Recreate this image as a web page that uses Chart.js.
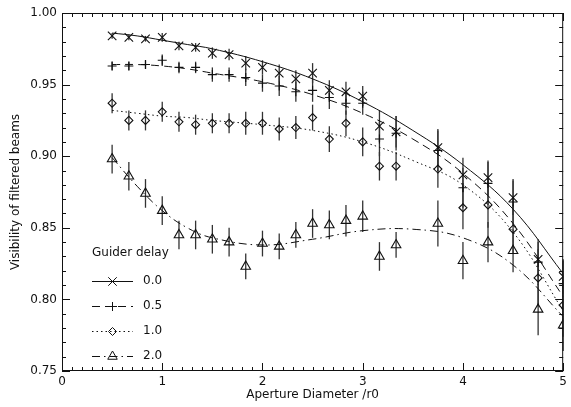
<!DOCTYPE html>
<html>
<head>
<meta charset="utf-8">
<script src="https://cdn.jsdelivr.net/npm/chart.js@4.4.1/dist/chart.umd.min.js"></script>
<style>
  html, body { margin: 0; padding: 0; background: #fff; }
  #chart { display: block; }
</style>
</head>
<body>
<canvas id="chart" width="571" height="407"></canvas>
<script>
// aperture diameters (units of r0)
const apertures = [0.5, 0.667, 0.833, 1.0, 1.167, 1.333, 1.5, 1.667, 1.833, 2.0, 2.167, 2.333,
  2.5, 2.667, 2.833, 3.0, 3.167, 3.333, 3.75, 4.0, 4.25, 4.5, 4.75, 5.0];

// measured visibility per guider delay
const vis00 = [0.984, 0.983, 0.982, 0.983, 0.977, 0.976, 0.972, 0.971, 0.965, 0.962, 0.958, 0.954,
  0.958, 0.946, 0.945, 0.942, 0.921, 0.917, 0.906, 0.887, 0.885, 0.871, 0.828, 0.816];
const vis05 = [0.963, 0.963, 0.964, 0.967, 0.962, 0.962, 0.957, 0.957, 0.955, 0.951, 0.949, 0.945,
  0.946, 0.941, 0.937, 0.937, 0.912, 0.916, 0.904, 0.878, 0.881, 0.868, 0.826, 0.811];
const vis10 = [0.937, 0.925, 0.925, 0.931, 0.924, 0.922, 0.923, 0.923, 0.923, 0.923, 0.919, 0.920,
  0.927, 0.912, 0.923, 0.910, 0.893, 0.893, 0.891, 0.864, 0.866, 0.849, 0.815, 0.796];
const vis20 = [0.898, 0.886, 0.874, 0.862, 0.845, 0.845, 0.842, 0.840, 0.823, 0.839, 0.837, 0.845,
  0.853, 0.852, 0.855, 0.858, 0.830, 0.838, 0.853, 0.827, 0.840, 0.834, 0.793, 0.782];

// error bar half lengths
const err00 = [0.002, 0.002, 0.002, 0.003, 0.003, 0.003, 0.004, 0.004, 0.005, 0.005, 0.006, 0.006,
  0.007, 0.007, 0.007, 0.007, 0.011, 0.011, 0.013, 0.012, 0.012, 0.012, 0.012, 0.012];
const err05 = [0.003, 0.003, 0.003, 0.004, 0.004, 0.004, 0.005, 0.005, 0.006, 0.006, 0.007, 0.007,
  0.008, 0.008, 0.008, 0.008, 0.012, 0.012, 0.014, 0.014, 0.015, 0.016, 0.016, 0.016];
const err10 = [0.007, 0.007, 0.007, 0.007, 0.007, 0.007, 0.007, 0.007, 0.008, 0.008, 0.008, 0.008,
  0.009, 0.009, 0.009, 0.010, 0.010, 0.010, 0.013, 0.015, 0.016, 0.017, 0.020, 0.022];
const err20 = [0.010, 0.010, 0.010, 0.010, 0.010, 0.010, 0.010, 0.010, 0.009, 0.009, 0.009, 0.009,
  0.010, 0.010, 0.011, 0.011, 0.010, 0.009, 0.016, 0.013, 0.014, 0.015, 0.018, 0.018];

const fitX = [0.5, 0.75, 1.0, 1.25, 1.5, 2.0, 2.5, 3.0, 3.5, 4.0, 4.5, 5.0];
const fit00 = [0.986, 0.984, 0.981, 0.978, 0.975, 0.966, 0.954, 0.938, 0.918, 0.894, 0.863, 0.818];
const fit05 = [0.964, 0.964, 0.963, 0.961, 0.958, 0.952, 0.943, 0.930, 0.912, 0.888, 0.853, 0.802];
const fit10 = [0.932, 0.930, 0.928, 0.927, 0.925, 0.922, 0.918, 0.910, 0.897, 0.880, 0.847, 0.792];
const fit20 = [0.899, 0.879, 0.862, 0.850, 0.843, 0.838, 0.842, 0.848, 0.849, 0.843, 0.824, 0.788];

const delays = ['0.0', '0.5', '1.0', '2.0'];

const xTicks = [0, 1, 2, 3, 4, 5];
const yTicks = [0.75, 0.80, 0.85, 0.90, 0.95, 1.00];

const INK = '#111';
const FONT = '12px "DejaVu Sans"';

const pts = (xs, ys) => xs.map((x, i) => ({ x: x, y: ys[i] }));

const series = [
  { vis: vis00, err: err00, fit: fit00, marker: 'crossRot', r: 6, dash: [] },
  { vis: vis05, err: err05, fit: fit05, marker: 'cross', r: 4.5, dash: [8, 5] },
  { vis: vis10, err: err10, fit: fit10, marker: 'rectRot', r: 4, dash: [1.5, 3] },
  { vis: vis20, err: err20, fit: fit20, marker: 'triangle', r: 5.5, dash: [8, 4, 1.5, 4] },
];

const datasets = [];
series.forEach((s, i) => {
  datasets.push({
    label: delays[i] + ' fit',
    data: pts(fitX, s.fit),
    showLine: true,
    tension: 0.4,
    borderColor: INK,
    borderWidth: 1,
    borderDash: s.dash,
    pointRadius: 0,
    fill: false
  });
});
series.forEach((s, i) => {
  datasets.push({
    label: delays[i],
    data: pts(apertures, s.vis),
    errors: s.err,
    showLine: false,
    pointStyle: s.marker,
    pointRadius: s.r,
    pointBorderColor: INK,
    pointBorderWidth: 1.1,
    pointBackgroundColor: 'rgba(0,0,0,0)'
  });
});

function drawMarker(ctx, style, x, y, r) {
  ctx.beginPath();
  if (style === 'crossRot') {
    const d = r * Math.SQRT1_2;
    ctx.moveTo(x - d, y - d); ctx.lineTo(x + d, y + d);
    ctx.moveTo(x - d, y + d); ctx.lineTo(x + d, y - d);
  } else if (style === 'cross') {
    ctx.moveTo(x - r, y); ctx.lineTo(x + r, y);
    ctx.moveTo(x, y - r); ctx.lineTo(x, y + r);
  } else if (style === 'rectRot') {
    ctx.moveTo(x - r, y); ctx.lineTo(x, y - r); ctx.lineTo(x + r, y); ctx.lineTo(x, y + r);
    ctx.closePath();
  } else {
    const a = Math.PI * 2 / 3;
    ctx.moveTo(x, y - r);
    ctx.lineTo(x + Math.sin(a) * r, y - Math.cos(a) * r);
    ctx.lineTo(x - Math.sin(a) * r, y - Math.cos(a) * r);
    ctx.closePath();
  }
  ctx.stroke();
}

const frame = {
  id: 'frame',
  beforeDatasetsDraw(chart) {
    // error bars
    const ctx = chart.ctx, xs = chart.scales.x, ys = chart.scales.y;
    ctx.save();
    ctx.strokeStyle = '#333';
    ctx.lineWidth = 1.3;
    chart.data.datasets.forEach(ds => {
      if (!ds.errors) return;
      ds.data.forEach((p, i) => {
        const px = xs.getPixelForValue(p.x);
        ctx.beginPath();
        ctx.moveTo(px, ys.getPixelForValue(p.y - ds.errors[i]));
        ctx.lineTo(px, ys.getPixelForValue(p.y + ds.errors[i]));
        ctx.stroke();
      });
    });
    ctx.restore();
  },
  afterDraw(chart) {
    const ctx = chart.ctx, a = chart.chartArea, xs = chart.scales.x, ys = chart.scales.y;
    ctx.save();
    ctx.strokeStyle = INK;
    ctx.lineWidth = 1;
    ctx.strokeRect(a.left + 0.5, a.top + 0.5, a.right - a.left - 1, a.bottom - a.top - 1);
    ctx.beginPath();
    for (let k = 0; k <= 50; k++) {
      const px = Math.round(xs.getPixelForValue(k / 10)) + 0.5;
      const len = k % 10 === 0 ? 8 : 4;
      ctx.moveTo(px, a.bottom); ctx.lineTo(px, a.bottom - len);
      ctx.moveTo(px, a.top); ctx.lineTo(px, a.top + len);
    }
    for (let k = 0; k <= 25; k++) {
      const py = Math.round(ys.getPixelForValue(0.75 + k / 100)) + 0.5;
      const len = k % 5 === 0 ? 8 : 4;
      ctx.moveTo(a.left, py); ctx.lineTo(a.left + len, py);
      ctx.moveTo(a.right, py); ctx.lineTo(a.right - len, py);
    }
    ctx.stroke();

    // axis titles
    ctx.fillStyle = INK;
    ctx.font = FONT;
    ctx.textAlign = 'center';
    ctx.textBaseline = 'middle';
    ctx.fillText('Aperture Diameter /r0', (a.left + a.right) / 2, 395);
    ctx.save();
    ctx.translate(16, (a.top + a.bottom) / 2);
    ctx.rotate(-Math.PI / 2);
    ctx.fillText('Visibility of filtered beams', 0, 0);
    ctx.restore();

    // legend
    ctx.textAlign = 'left';
    ctx.fillText('Guider delay', 92, 253);
    series.forEach((s, i) => {
      const y = 281 + i * 25;
      ctx.setLineDash(s.dash);
      ctx.beginPath();
      ctx.moveTo(92, y + 0.5); ctx.lineTo(133, y + 0.5);
      ctx.stroke();
      ctx.setLineDash([]);
      drawMarker(ctx, s.marker, 112.5, y + 0.5, s.r);
      ctx.fillText(delays[i], 143, y);
    });
    ctx.restore();
  }
};

const config = {
  type: 'scatter',
  data: { datasets: datasets },
  options: {
    responsive: false,
    animation: false,
    layout: { padding: { left: 0, right: 3, top: 13, bottom: 0 } },
    plugins: { legend: { display: false }, tooltip: { enabled: false } },
    scales: {
      x: {
        type: 'linear', min: 0, max: 5,
        afterFit: s => { s.height = 36; },
        afterBuildTicks: s => { s.ticks = xTicks.map(v => ({ value: v })); },
        grid: { display: false, drawTicks: false },
        border: { display: false },
        ticks: { color: INK, font: { family: 'DejaVu Sans', size: 12 }, padding: 4, maxRotation: 0,
          callback: v => String(v) }
      },
      y: {
        type: 'linear', min: 0.75, max: 1.0,
        afterFit: s => { s.width = 62; },
        afterBuildTicks: s => { s.ticks = yTicks.map(v => ({ value: v })); },
        grid: { display: false, drawTicks: false },
        border: { display: false },
        ticks: { color: INK, font: { family: 'DejaVu Sans', size: 12 }, padding: 5,
          callback: v => v.toFixed(2) }
      }
    }
  },
  plugins: [frame]
};

const visChart = new Chart(document.getElementById('chart'), config);
</script>
</body>
</html>
